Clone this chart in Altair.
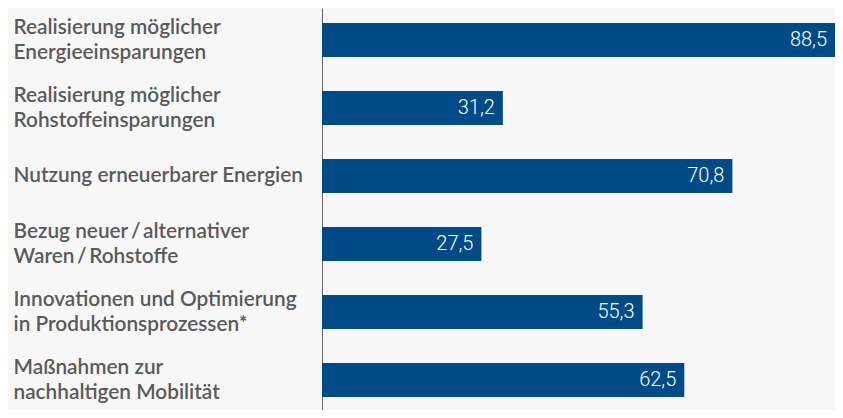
import altair as alt
import pandas as pd

categories = [
    "Realisierung möglicher|Energieeinsparungen",
    "Realisierung möglicher|Rohstoffeinsparungen",
    "Nutzung erneuerbarer Energien",
    "Bezug neuer\u2009/\u2009alternativer|Waren\u2009/\u2009Rohstoffe",
    "Innovationen und Optimierung|in Produktionsprozessen*",
    "Maßnahmen zur|nachhaltigen Mobilität",
]
values = [88.5, 31.2, 70.8, 27.5, 55.3, 62.5]
value_labels = ["88,5", "31,2", "70,8", "27,5", "55,3", "62,5"]

df = pd.DataFrame({"cat": categories, "val": values, "lab": value_labels})

BAR = "#004b87"

y = alt.Y(
    "cat:N",
    sort=None,
    title=None,
    scale=alt.Scale(paddingInner=0.5, paddingOuter=0.206, align=0.536),
    axis=alt.Axis(
        labelExpr="split(datum.label, '|')",
        labelAlign="left",
        labelPadding=309,
        labelLimit=0,
        labelFont="Lato",
        labelFontWeight=600,
        labelFontSize=20.8,
        labelLineHeight=25.5,
        labelColor="#5a5a5a",
        labelOffset={"condition": {"test": "indexof(datum.value, '|') >= 0", "value": -12.5}, "value": 0},
        ticks=False,
        tickSize=0,
        domainColor="#666666",
        domainWidth=1,
    ),
)
x = alt.X(
    "val:Q",
    title=None,
    scale=alt.Scale(domain=[0, 88.5], nice=False, zero=True),
    axis=None,
)

bars = alt.Chart(df).mark_bar(color=BAR).encode(x=x, y=y)
text = alt.Chart(df).mark_text(
    align="right", baseline="middle", dx=-8, color="white",
    font="Roboto", fontWeight=300, fontSize=20,
).encode(x=x, y=y, text="lab:N")

chart = (
    alt.layer(bars, text)
    .properties(width=513, height=402, padding={"left": 5, "right": 0, "top": 0, "bottom": 0})
    .configure(background="#f7f7f7")
    .configure_view(stroke=None)
)

chart.save("out.html", embed_options={"renderer": "svg", "actions": False})
